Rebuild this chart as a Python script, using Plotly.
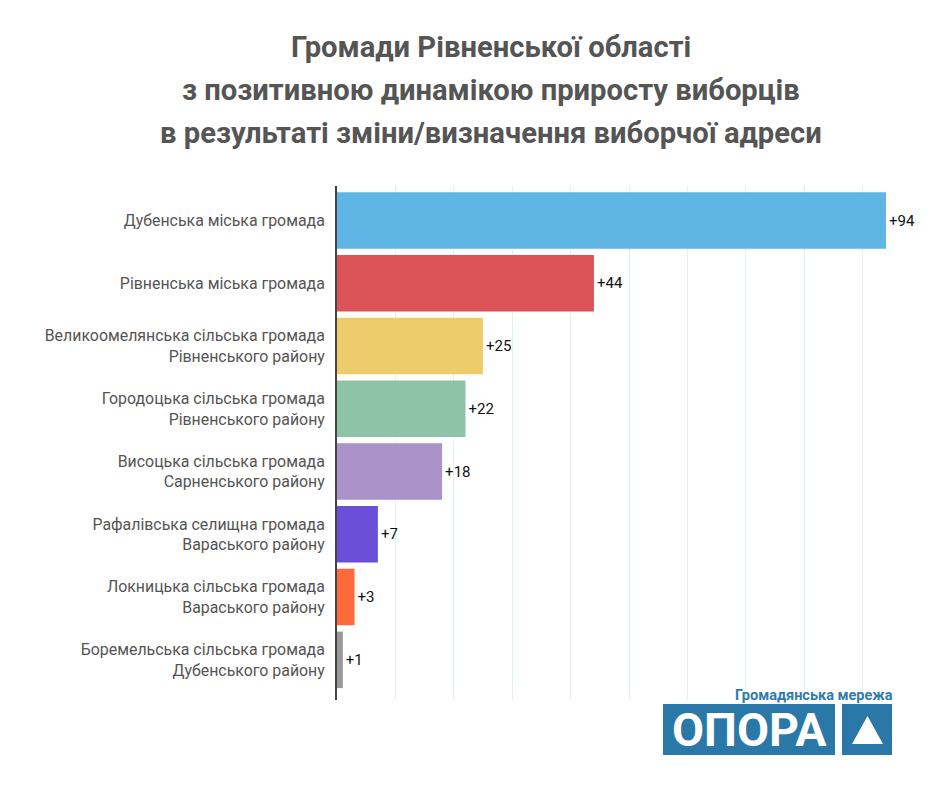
import plotly.graph_objects as go

categories = [
    "Дубенська міська громада",
    "Рівненська міська громада",
    "Великоомелянська сільська громада<br>Рівненського району",
    "Городоцька сільська громада<br>Рівненського району",
    "Висоцька сільська громада<br>Сарненського району",
    "Рафалівська селищна громада<br>Вараського району",
    "Локницька сільська громада<br>Вараського району",
    "Боремельська сільська громада<br>Дубенського району",
]
values = [94, 44, 25, 22, 18, 7, 3, 1]
colors = ["#5fb6e4", "#dc5458", "#eecb6c", "#8fc3a8", "#ab92c8", "#6c4fd8", "#ff6a3a", "#999999"]

title_lines = [
    "Громади Рівненської області",
    "з позитивною динамікою приросту виборців",
    "в результаті зміни/визначення виборчої адреси",
]

OFF = 8  # page body margin offset
W, H = 940, 788
L, R, T, B = 337 - OFF, 940 - (921 - OFF), 186 - OFF, 788 - (700 - OFF)
pw, ph = W - L - R, H - T - B

def px(x):
    return (x - OFF - L) / pw

def py(y):
    return (H - B - (y - OFF)) / ph

fig = go.Figure(go.Bar(
    x=values,
    y=categories,
    orientation="h",
    marker=dict(color=colors, line=dict(width=0)),
    width=0.9,
    text=[f"+{v}" for v in values],
    textposition="outside",
    textfont=dict(family="Roboto", size=15, color="#111111"),
    cliponaxis=False,
))

annotations = []
for line, yy in zip(title_lines, [47, 90, 133]):
    annotations.append(dict(
        text=f"<b>{line}</b>", x=px(491), y=py(yy), xref="paper", yref="paper",
        xanchor="center", yanchor="middle", showarrow=False,
        font=dict(family="Roboto", size=29.2, color="#555555"),
    ))
annotations.append(dict(
    text="<b>Громадянська мережа</b>", x=px(895), y=py(695), xref="paper", yref="paper",
    xanchor="right", yanchor="middle", showarrow=False,
    font=dict(family="Roboto", size=14.5, color="#2f7bb0"),
))
annotations.append(dict(
    text="<b>ОПОРА</b>", x=px(749), y=py(730), xref="paper", yref="paper",
    xanchor="center", yanchor="middle", showarrow=False,
    font=dict(family="Roboto", size=46.5, color="#ffffff"),
))

logo_blue = "#2a78a8"
shapes = [
    dict(type="rect", xref="paper", yref="paper", x0=px(663), x1=px(835), y0=py(755), y1=py(704),
         fillcolor=logo_blue, line=dict(width=0), layer="above"),
    dict(type="rect", xref="paper", yref="paper", x0=px(842), x1=px(892), y0=py(755), y1=py(704),
         fillcolor=logo_blue, line=dict(width=0), layer="above"),
    dict(type="path", xref="paper", yref="paper",
         path=f"M {px(867.5)} {py(716)} L {px(883)} {py(744)} L {px(852)} {py(744)} Z",
         fillcolor="#ffffff", line=dict(width=0), layer="above"),
]

fig.update_layout(
    width=W, height=H,
    margin=dict(l=L, r=R, t=T, b=B),
    paper_bgcolor="#ffffff", plot_bgcolor="#ffffff",
    showlegend=False,
    annotations=annotations,
    shapes=shapes,
    xaxis=dict(range=[0, 100], dtick=10, showgrid=True, gridcolor="#e3f0f9", gridwidth=1,
               zeroline=False, showticklabels=False, fixedrange=True),
    yaxis=dict(type="category", range=[7.64, -0.55], showline=True, linecolor="#444444", linewidth=2,
               ticks="", ticklabelstandoff=7,
               tickfont=dict(family="Roboto", size=15.9, color="#555555"), fixedrange=True),
    font=dict(family="Roboto"),
)

fig.write_html("out.html")
